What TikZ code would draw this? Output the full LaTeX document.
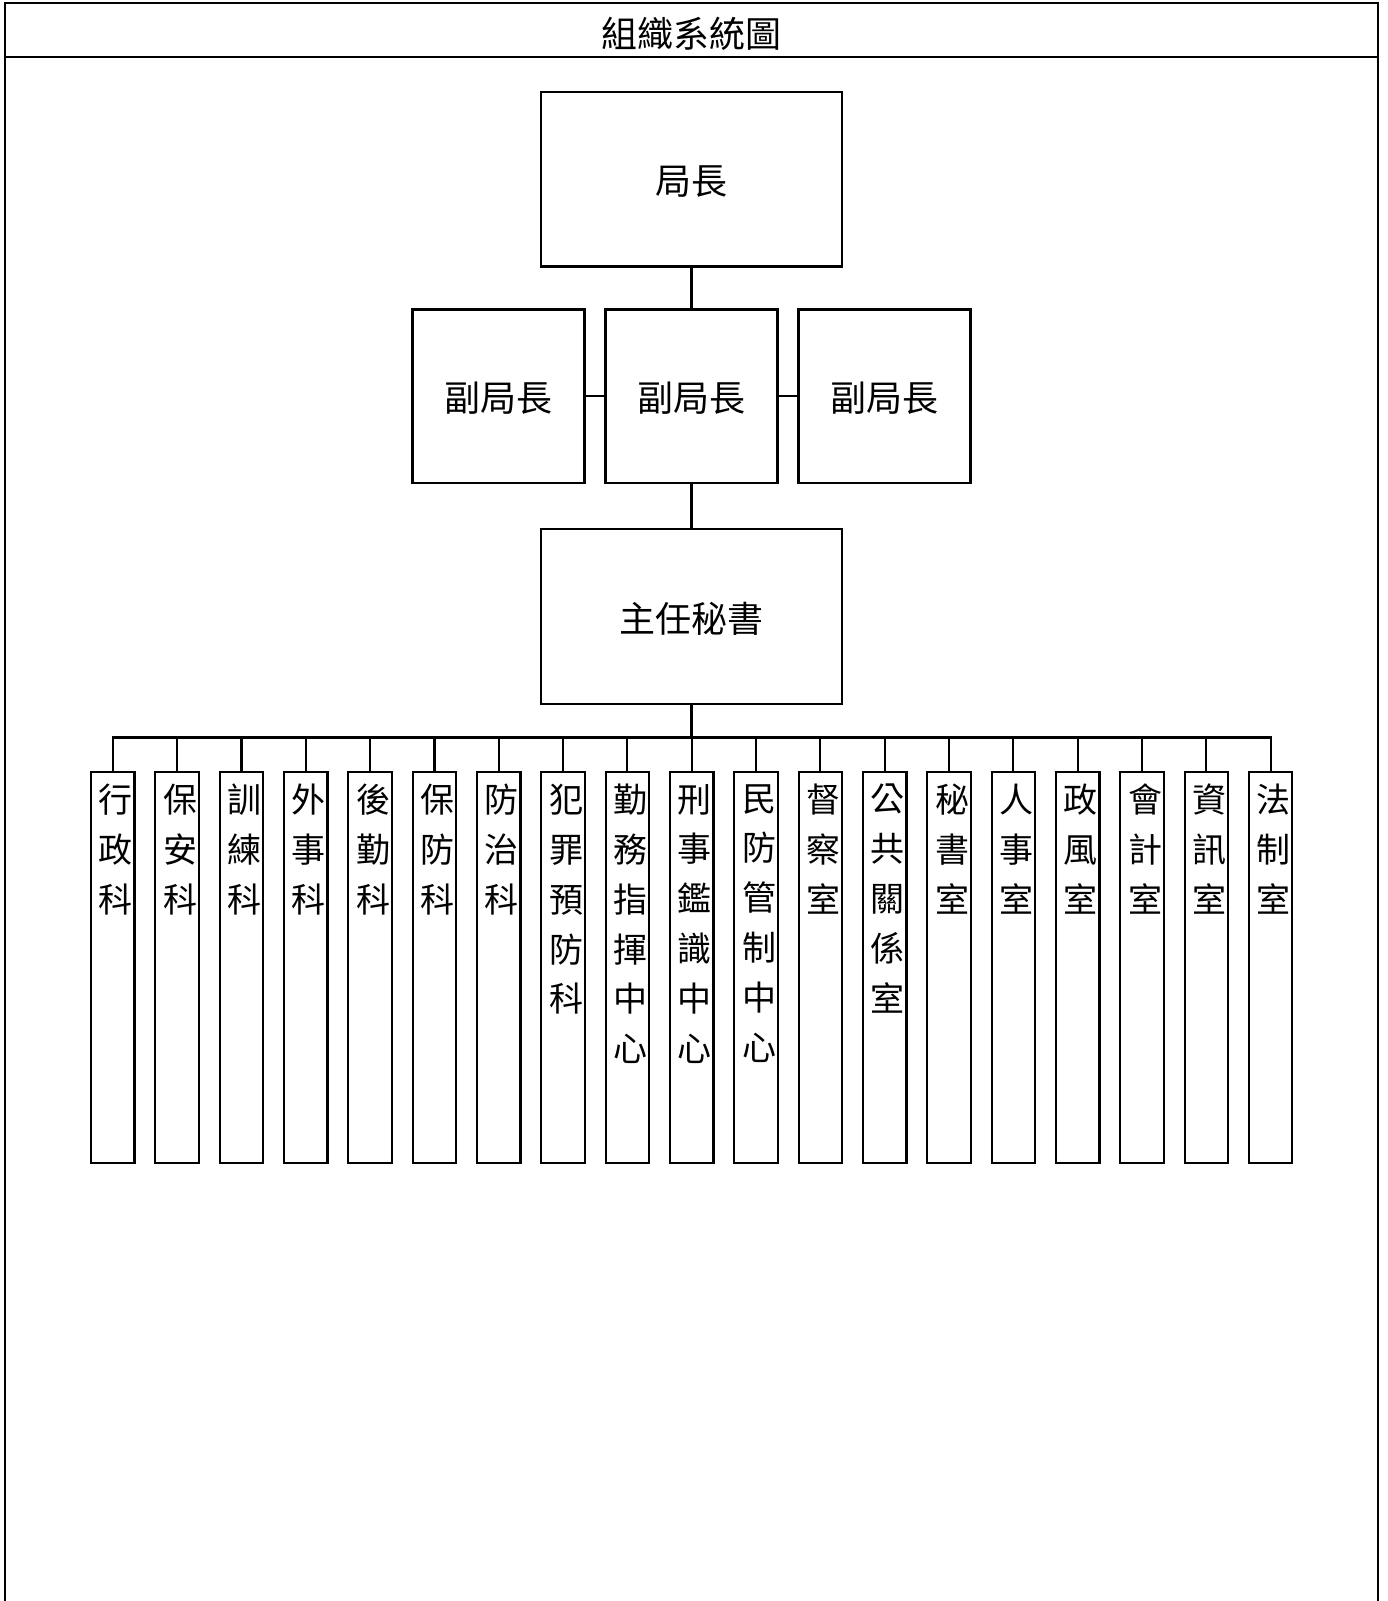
\documentclass[tikz,border=0pt]{standalone}
\usepackage{fontspec}
\setmainfont{Noto Sans CJK TC}
\usetikzlibrary{positioning}
\tikzset{
  unitbox/.style={draw, line width=1.1pt, inner sep=0pt, text height=17.8pt, text depth=2.2pt, font=\fontsize{18}{22}\selectfont},
  chiefbox/.style={unitbox, minimum width=150.5pt, minimum height=87.3pt},
  deputybox/.style={unitbox, minimum width=86pt, minimum height=86.8pt},
  deptbox/.style={draw, line width=1.1pt, inner sep=0pt, minimum width=21.7pt, minimum height=195.7pt},
  depttext/.style={align=center, inner sep=0pt, xshift=1.5pt, font=\fontsize{17}{24.9}\selectfont},
  link/.style={line width=1.1pt},
}
\begin{document}
\begin{tikzpicture}[x=0.5pt, y=-0.5pt]
\useasboundingbox (0,0) rectangle (1387,1601);
% frame and title
\draw[link] (5,1601) -- (5,3.3) -- (1378.3,3.3) -- (1378.3,1601);
\draw[link] (5,57.3) -- (1378.3,57.3);
\node[font=\fontsize{18}{22}\selectfont] (title) at (691.6,33.5) {組織系統圖};

% top levels
\node[chiefbox] (chief) at (691.5,179.2) {局長};
\node[deputybox] (dep1) at (498.4,396.3) {副局長};
\node[deputybox] (dep2) at (691.5,396.3) {副局長};
\node[deputybox] (dep3) at (884.5,396.3) {副局長};
\node[chiefbox] (sec) at (691.5,616.5) {主任秘書};
\draw[link] (chief) -- (dep2);
\draw[link] (dep1) -- (dep2);
\draw[link] (dep2) -- (dep3);
\draw[link] (dep2) -- (sec);

% units
\node[deptbox] (d1) at (112.7,967.6) {};
\node[deptbox] (d2) at (177.0,967.6) {};
\node[deptbox] (d3) at (241.4,967.6) {};
\node[deptbox] (d4) at (305.7,967.6) {};
\node[deptbox] (d5) at (370.0,967.6) {};
\node[deptbox] (d6) at (434.4,967.6) {};
\node[deptbox] (d7) at (498.7,967.6) {};
\node[deptbox] (d8) at (563.0,967.6) {};
\node[deptbox] (d9) at (627.3,967.6) {};
\node[deptbox] (d10) at (691.7,967.6) {};
\node[deptbox] (d11) at (756.0,967.6) {};
\node[deptbox] (d12) at (820.3,967.6) {};
\node[deptbox] (d13) at (884.7,967.6) {};
\node[deptbox] (d14) at (949.0,967.6) {};
\node[deptbox] (d15) at (1013.3,967.6) {};
\node[deptbox] (d16) at (1077.7,967.6) {};
\node[deptbox] (d17) at (1142.0,967.6) {};
\node[deptbox] (d18) at (1206.3,967.6) {};
\node[deptbox] (d19) at (1270.6,967.6) {};

\node[depttext, below=6.5pt of d1.north] (t1) {行\\政\\科};
\node[depttext, below=6.5pt of d2.north] (t2) {保\\安\\科};
\node[depttext, below=6.5pt of d3.north] (t3) {訓\\練\\科};
\node[depttext, below=6.5pt of d4.north] (t4) {外\\事\\科};
\node[depttext, below=6.5pt of d5.north] (t5) {後\\勤\\科};
\node[depttext, below=6.5pt of d6.north] (t6) {保\\防\\科};
\node[depttext, below=6.5pt of d7.north] (t7) {防\\治\\科};
\node[depttext, below=6.5pt of d8.north] (t8) {犯\\罪\\預\\防\\科};
\node[depttext, below=6.5pt of d9.north] (t9) {勤\\務\\指\\揮\\中\\心};
\node[depttext, below=6.5pt of d10.north] (t10) {刑\\事\\鑑\\識\\中\\心};
\node[depttext, below=6.5pt of d11.north] (t11) {民\\防\\管\\制\\中\\心};
\node[depttext, below=6.5pt of d12.north] (t12) {督\\察\\室};
\node[depttext, below=6.5pt of d13.north] (t13) {公\\共\\關\\係\\室};
\node[depttext, below=6.5pt of d14.north] (t14) {秘\\書\\室};
\node[depttext, below=6.5pt of d15.north] (t15) {人\\事\\室};
\node[depttext, below=6.5pt of d16.north] (t16) {政\\風\\室};
\node[depttext, below=6.5pt of d17.north] (t17) {會\\計\\室};
\node[depttext, below=6.5pt of d18.north] (t18) {資\\訊\\室};
\node[depttext, below=6.5pt of d19.north] (t19) {法\\制\\室};

% bus
\coordinate (bus) at (691.5,737.4);
\draw[link] (sec) -- (bus);
\draw[link] (d1.north) -- (d1.north |- bus) -- (d19.north |- bus) -- (d19.north);
\draw[link] (d2.north) -- (d2.north |- bus);
\draw[link] (d3.north) -- (d3.north |- bus);
\draw[link] (d4.north) -- (d4.north |- bus);
\draw[link] (d5.north) -- (d5.north |- bus);
\draw[link] (d6.north) -- (d6.north |- bus);
\draw[link] (d7.north) -- (d7.north |- bus);
\draw[link] (d8.north) -- (d8.north |- bus);
\draw[link] (d9.north) -- (d9.north |- bus);
\draw[link] (d10.north) -- (d10.north |- bus);
\draw[link] (d11.north) -- (d11.north |- bus);
\draw[link] (d12.north) -- (d12.north |- bus);
\draw[link] (d13.north) -- (d13.north |- bus);
\draw[link] (d14.north) -- (d14.north |- bus);
\draw[link] (d15.north) -- (d15.north |- bus);
\draw[link] (d16.north) -- (d16.north |- bus);
\draw[link] (d17.north) -- (d17.north |- bus);
\draw[link] (d18.north) -- (d18.north |- bus);
\end{tikzpicture}
\end{document}
